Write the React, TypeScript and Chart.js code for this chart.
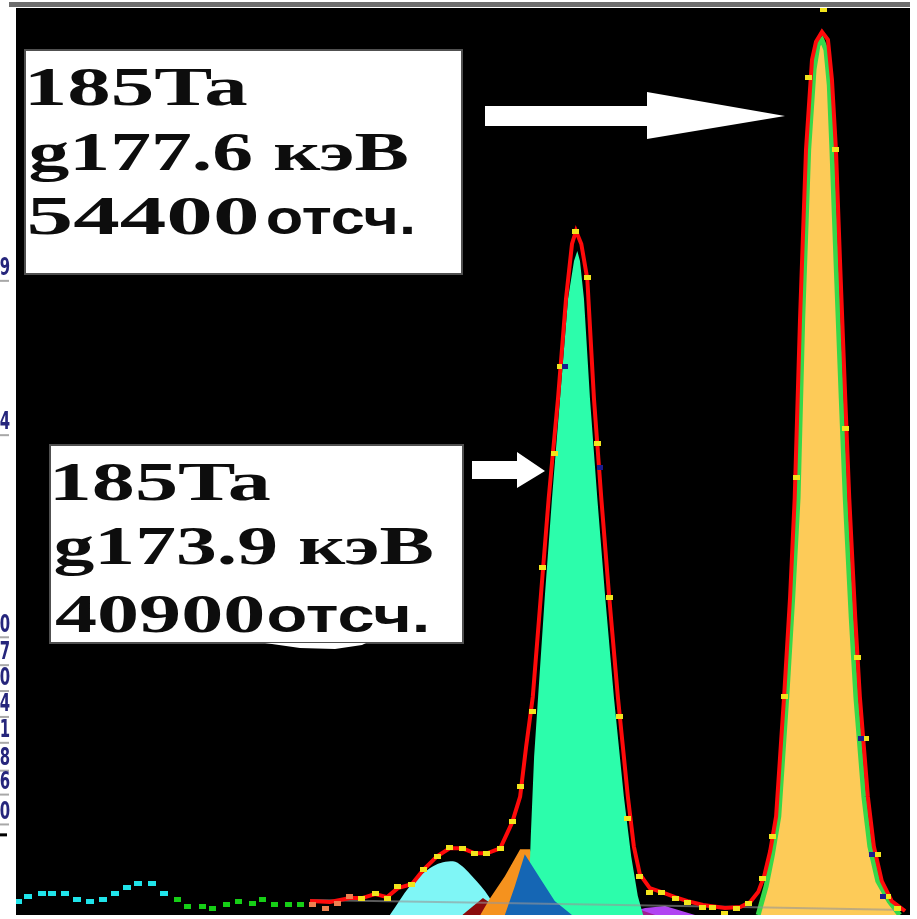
import React, { useEffect, useRef } from "react";
import { Chart, registerables } from "chart.js";

Chart.register(...registerables);

// ---- axis ranges (energy in keV, counts) ----
const E_MIN = 165.477;
const E_MAX = 178.924;
const COUNT_MAX = 9110;

// ---- left axis tick labels (only the last digits are visible) ----
const TICK_VALUES = [6490, 4940, 2910, 2630, 2370, 2110, 1850, 1570, 1330, 1030];
const TICK_LABELS = ["9", "4", "0", "7", "0", "4", "1", "8", "6", "0"];
const AXIS_END_VALUE = 820;

// ---- total fit (red line) ----
const TOTAL_E = [169.90, 170.20, 170.50, 170.68, 170.88, 171.06, 171.22, 171.43, 171.60, 171.81, 172.00, 172.19, 172.38, 172.56, 172.76, 172.94, 173.06, 173.15, 173.25, 173.37, 173.49, 173.63, 173.75, 173.84, 173.90, 173.98, 174.07, 174.17, 174.28, 174.40, 174.53, 174.68, 174.77, 174.86, 175.01, 175.19, 175.39, 175.58, 175.81, 176.14, 176.37, 176.52, 176.64, 176.73, 176.82, 176.91, 176.97, 177.03, 177.12, 177.19, 177.27, 177.36, 177.45, 177.51, 177.60, 177.69, 177.75, 177.81, 177.87, 177.95, 178.01, 178.10, 178.17, 178.29, 178.38, 178.50, 178.65, 178.85];
const TOTAL_COUNTS = [140, 130, 170, 170, 210, 180, 270, 310, 450, 590, 670, 670, 620, 620, 670, 930, 1190, 1690, 2190, 3190, 4190, 5190, 6190, 6740, 6870, 6740, 6390, 5190, 4190, 3190, 2190, 1190, 690, 410, 270, 230, 180, 140, 100, 70, 80, 130, 230, 390, 640, 990, 1590, 2190, 3190, 4190, 5990, 7690, 8590, 8770, 8870, 8790, 8390, 7690, 6590, 5190, 4190, 2990, 2190, 1190, 690, 340, 140, 40];

// ---- peak 177.6 keV component ----
const PEAK177_E = [176.64, 176.76, 176.85, 176.95, 177.01, 177.07, 177.16, 177.24, 177.31, 177.40, 177.48, 177.54, 177.60, 177.66, 177.71, 177.75, 177.81, 177.89, 177.95, 178.04, 178.11, 178.23, 178.32, 178.44, 178.61, 178.77];
const PEAK177_COUNTS = [0, 290, 590, 990, 1590, 2190, 3190, 4190, 5990, 7690, 8490, 8740, 8790, 8690, 8340, 7690, 6590, 5190, 4190, 2990, 2190, 1190, 690, 340, 140, 0];

// ---- peak 173.9 keV component ----
const PEAK174_E = [173.18, 173.22, 173.27, 173.33, 173.43, 173.54, 173.66, 173.78, 173.87, 173.92, 173.96, 174.02, 174.11, 174.22, 174.34, 174.47, 174.62, 174.73, 174.83, 174.91];
const PEAK174_COUNTS = [0, 790, 1590, 2190, 3190, 4190, 5190, 6190, 6570, 6670, 6570, 6190, 5190, 4190, 3190, 2190, 1190, 590, 190, 0];

// ---- small components ----
const CYAN_PEAK_E = [171.10, 171.40, 171.55, 171.75, 171.90, 172.05, 172.19, 172.31, 172.53, 172.76];
const CYAN_PEAK_COUNTS = [0, 290, 390, 490, 530, 540, 490, 410, 240, 0];
const DARKRED_PEAK_E = [172.19, 172.50, 172.88];
const DARKRED_PEAK_COUNTS = [0, 170, 0];
const ORANGE_PEAK_E = [172.46, 172.61, 172.83, 173.06, 173.21, 173.43, 173.58];
const ORANGE_PEAK_COUNTS = [0, 170, 390, 660, 660, 190, 0];
const BLUE_PEAK_E = [172.83, 172.98, 173.13, 173.36, 173.58, 173.84];
const BLUE_PEAK_COUNTS = [0, 290, 610, 370, 140, 0];
const PURPLE_PEAK_E = [174.56, 174.94, 175.24, 175.69];
const PURPLE_PEAK_COUNTS = [0, 70, 90, 0];
const MAGENTA_PEAK_E = [174.49, 174.79, 175.09];
const MAGENTA_PEAK_COUNTS = [0, 70, 0];

// ---- background ----
const BACKGROUND_E = [169.90, 172.76, 176.37, 178.85];
const BACKGROUND_COUNTS = [150, 120, 80, 50];

// ---- measured spectrum points ----
const CYAN_PTS_E = [165.51, 165.66, 165.87, 166.02, 166.21, 166.40, 166.59, 166.79, 166.97, 167.15, 167.31, 167.52, 167.70];
const CYAN_PTS_COUNTS = [140, 190, 220, 220, 220, 160, 140, 160, 220, 280, 320, 320, 220];
const GREEN_PTS_E = [167.91, 168.06, 168.28, 168.44, 168.65, 168.82, 169.03, 169.19, 169.37, 169.57, 169.75];
const GREEN_PTS_COUNTS = [160, 90, 90, 70, 110, 140, 120, 160, 110, 110, 110];
const ORANGE_PTS_E = [169.94, 170.13, 170.31, 170.50];
const ORANGE_PTS_COUNTS = [110, 70, 120, 190];
const YELLOW_PTS_E = [170.68, 170.88, 171.06, 171.22, 171.43, 171.60, 171.81, 172.00, 172.19, 172.38, 172.56, 172.76, 172.94, 173.07, 173.24, 173.40, 173.57, 173.66, 173.90, 174.07, 174.23, 174.40, 174.56, 174.68, 174.86, 175.01, 175.19, 175.39, 175.58, 175.81, 175.96, 176.14, 176.32, 176.49, 176.70, 176.86, 177.03, 177.21, 177.39, 177.63, 177.80, 177.96, 178.13, 178.25, 178.43, 178.59, 178.74];
const YELLOW_PTS_COUNTS = [170, 220, 170, 290, 310, 460, 590, 680, 670, 620, 620, 670, 940, 1290, 2040, 3490, 4640, 5510, 6870, 6400, 4740, 3190, 1990, 970, 390, 230, 230, 170, 130, 80, 80, 20, 70, 120, 370, 790, 2190, 4390, 8410, 9090, 7690, 4890, 2590, 1770, 610, 190, 70];
const NAVY_PTS_E = [173.73, 174.26, 178.19, 178.35, 178.52];
const NAVY_PTS_COUNTS = [5510, 4490, 1770, 610, 190];

// ---- annotations ----
const NOTE_177 = { isotope: "185Ta", energy: "g177.6 кэВ", counts: "54400", unit: "отсч." };
const NOTE_174 = { isotope: "185Ta", energy: "g173.9 кэВ", counts: "40900", unit: "отсч." };

const xy = (xs: number[], ys: number[]) => xs.map((x, i) => ({ x, y: ys[i] }));

function makeRect(w: number, h: number, color: string) {
  const c = document.createElement("canvas");
  c.width = w;
  c.height = h;
  const g = c.getContext("2d")!;
  g.fillStyle = color;
  g.fillRect(0, 0, w, h);
  return c;
}

function fitText(ctx: CanvasRenderingContext2D, text: string, font: string, x: number, y: number, w: number) {
  ctx.font = font;
  const m = ctx.measureText(text);
  const ink = m.actualBoundingBoxLeft + m.actualBoundingBoxRight;
  const s = w / ink;
  ctx.save();
  ctx.translate(x + m.actualBoundingBoxLeft * s, y);
  ctx.scale(s, 1);
  ctx.textAlign = "left";
  ctx.textBaseline = "alphabetic";
  ctx.fillText(text, 0, 0);
  ctx.restore();
}

const SERIF = 'bold 55px "Liberation Serif", "Times New Roman", serif';
const SANS = 'bold 48px "Liberation Sans", Arial, sans-serif';

const bgPlugin = {
  id: "bg",
  beforeDraw(chart: any) {
    const { ctx, chartArea: a, width, height } = chart;
    ctx.save();
    ctx.fillStyle = "#ffffff";
    ctx.fillRect(0, 0, width, height);
    ctx.fillStyle = "#000000";
    ctx.fillRect(a.left, a.top, a.right - a.left, a.bottom - a.top);
    ctx.fillStyle = "#6e6e6e";
    ctx.fillRect(9, 2, a.right - 9, 5);
    ctx.restore();
  },
};

const axisPlugin = {
  id: "axisLabels",
  afterDraw(chart: any) {
    const { ctx } = chart;
    const ys = chart.scales.y;
    ctx.save();
    TICK_LABELS.forEach((lab, i) => {
      const y = ys.getPixelForValue(TICK_VALUES[i]);
      ctx.save();
      ctx.translate(10, y);
      ctx.scale(0.62, 1);
      ctx.font = 'bold 24px "DejaVu Sans"';
      ctx.textAlign = "right";
      ctx.textBaseline = "middle";
      ctx.fillStyle = "#26267c";
      ctx.fillText(lab, 0, 0);
      ctx.restore();
      ctx.fillStyle = "#a8a8a8";
      ctx.fillRect(0, y + 11, 9, 2);
    });
    const yb = ys.getPixelForValue(AXIS_END_VALUE);
    ctx.fillStyle = "#000";
    ctx.fillRect(0, yb, 7, 3);
    ctx.restore();
  },
};

function drawNote(ctx: CanvasRenderingContext2D, note: any, box: number[], lines: number[][]) {
  const [bx, by, bw, bh] = box;
  ctx.fillStyle = "#ffffff";
  ctx.fillRect(bx, by, bw, bh);
  ctx.strokeStyle = "#505050";
  ctx.lineWidth = 2;
  ctx.strokeRect(bx, by, bw, bh);
  ctx.fillStyle = "#0d0d0d";
  fitText(ctx, note.isotope, SERIF, lines[0][0], lines[0][1], lines[0][2]);
  fitText(ctx, note.energy, SERIF, lines[1][0], lines[1][1], lines[1][2]);
  fitText(ctx, note.counts, SERIF, lines[2][0], lines[2][1], lines[2][2]);
  fitText(ctx, note.unit, SANS, lines[3][0], lines[3][1], lines[3][2]);
}

function drawArrow(ctx: CanvasRenderingContext2D, pts: number[][]) {
  ctx.beginPath();
  pts.forEach(([x, y], i) => (i === 0 ? ctx.moveTo(x, y) : ctx.lineTo(x, y)));
  ctx.closePath();
  ctx.fillStyle = "#ffffff";
  ctx.fill();
}

const notePlugin = {
  id: "notes",
  afterDraw(chart: any) {
    const { ctx } = chart;
    ctx.save();
    drawNote(ctx, NOTE_177, [25, 50, 437, 224], [
      [30, 105, 217],
      [30, 170, 378],
      [30, 234, 227],
      [267, 234, 146],
    ]);
    drawNote(ctx, NOTE_174, [50, 445, 413, 198], [
      [55, 500, 215],
      [55, 564, 378],
      [55, 632, 208],
      [268, 632, 159],
    ]);
    // small white smudge under lower box
    ctx.beginPath();
    ctx.moveTo(265, 643);
    ctx.lineTo(300, 648);
    ctx.lineTo(335, 649);
    ctx.lineTo(362, 645);
    ctx.lineTo(366, 643);
    ctx.closePath();
    ctx.fillStyle = "#ffffff";
    ctx.fill();
    drawArrow(ctx, [
      [485, 106], [647, 106], [647, 92], [785, 116], [647, 139], [647, 126], [485, 126],
    ]);
    drawArrow(ctx, [
      [472, 461], [517, 461], [517, 452], [545, 471], [517, 488], [517, 479], [472, 479],
    ]);
    ctx.restore();
  },
};

export default function App() {
  const ref = useRef<HTMLCanvasElement | null>(null);

  useEffect(() => {
    if (!ref.current) return;
    const yellowSq = makeRect(7, 5, "#f2e41c");
    const navySq = makeRect(6, 5, "#1b1b8e");
    const cyanSq = makeRect(8, 5, "#20e4ea");
    const greenSq = makeRect(7, 5, "#16cf16");
    const orangeSq = makeRect(7, 5, "#ee8050");

    const fillDs = (label: string, xs: number[], ys: number[], color: string, order: number, extra: any = {}) => ({
      label,
      data: xy(xs, ys),
      borderColor: color,
      backgroundColor: color,
      borderWidth: 0,
      pointRadius: 0,
      fill: "origin",
      tension: 0,
      order,
      ...extra,
    });
    const ptsDs = (label: string, xs: number[], ys: number[], style: HTMLCanvasElement, order: number) => ({
      label,
      data: xy(xs, ys),
      showLine: false,
      pointStyle: style,
      pointRadius: 3,
      borderWidth: 0,
      fill: false,
      order,
    });

    const chart = new Chart(ref.current, {
      type: "line",
      data: {
        datasets: [
          fillDs("purple", PURPLE_PEAK_E, PURPLE_PEAK_COUNTS, "#b044f2", 13),
          fillDs("magenta", MAGENTA_PEAK_E, MAGENTA_PEAK_COUNTS, "#9e2090", 12),
          fillDs("cyan peak", CYAN_PEAK_E, CYAN_PEAK_COUNTS, "#7ff6f6", 11, { cubicInterpolationMode: "monotone" }),
          fillDs("darkred peak", DARKRED_PEAK_E, DARKRED_PEAK_COUNTS, "#8a0b0b", 10),
          fillDs("orange peak", ORANGE_PEAK_E, ORANGE_PEAK_COUNTS, "#f5921e", 9),
          fillDs("173.9 keV", PEAK174_E, PEAK174_COUNTS, "#2cfdab", 8),
          fillDs("blue peak", BLUE_PEAK_E, BLUE_PEAK_COUNTS, "#1566b4", 7),
          fillDs("177.6 keV", PEAK177_E, PEAK177_COUNTS, "#fdcb58", 6, { borderColor: "#35d84a", borderWidth: 5 }),
          {
            label: "background",
            data: xy(BACKGROUND_E, BACKGROUND_COUNTS),
            borderColor: "rgba(150,150,150,0.6)",
            borderWidth: 2,
            pointRadius: 0,
            fill: false,
            order: 5,
          },
          {
            label: "total",
            data: xy(TOTAL_E, TOTAL_COUNTS),
            borderColor: "#ff0a0a",
            borderWidth: 4,
            pointRadius: 0,
            fill: false,
            tension: 0,
            order: 4,
          },
          ptsDs("cyan points", CYAN_PTS_E, CYAN_PTS_COUNTS, cyanSq, 3),
          ptsDs("green points", GREEN_PTS_E, GREEN_PTS_COUNTS, greenSq, 3),
          ptsDs("orange points", ORANGE_PTS_E, ORANGE_PTS_COUNTS, orangeSq, 3),
          ptsDs("data", YELLOW_PTS_E, YELLOW_PTS_COUNTS, yellowSq, 2),
          ptsDs("data2", NAVY_PTS_E, NAVY_PTS_COUNTS, navySq, 1),
        ] as any,
      },
      options: {
        animation: false,
        responsive: false,
        events: [],
        layout: { padding: { left: 16, top: 8, right: 7, bottom: 0 } },
        scales: {
          x: { type: "linear", min: E_MIN, max: E_MAX, display: false },
          y: { type: "linear", min: 0, max: COUNT_MAX, display: false },
        },
        plugins: { legend: { display: false }, tooltip: { enabled: false } },
      },
      plugins: [bgPlugin, axisPlugin, notePlugin],
    });
    return () => chart.destroy();
  }, []);

  return (
    <div style={{ position: "fixed", left: 0, top: 0, width: 917, height: 919, background: "#fff" }}>
      <canvas ref={ref} width={917} height={919} style={{ display: "block" }} />
    </div>
  );
}
